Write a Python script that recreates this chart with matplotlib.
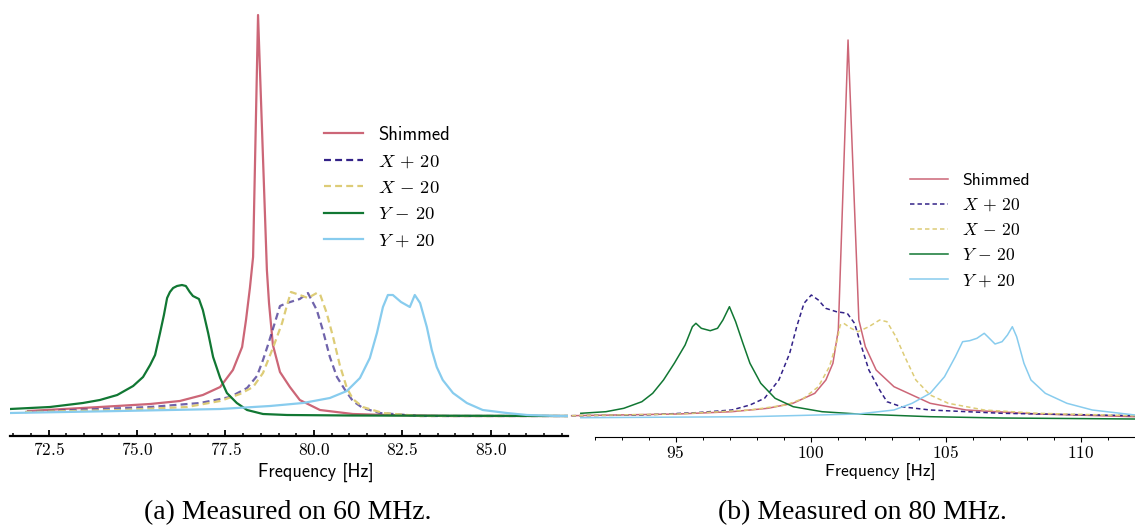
import matplotlib
matplotlib.use("Agg")
import matplotlib.pyplot as plt
from matplotlib.ticker import MultipleLocator, FuncFormatter

# ---------------- data (frequency [Hz], amplitude [a.u.]) ----------------
# Panel (a): 60 MHz
a_shim_f = [71.92, 73.95, 75.37, 76.21, 76.86, 77.35, 77.71, 77.97, 78.08, 78.19, 78.28, 78.42,
            78.67, 78.73, 78.84, 79.04, 79.32, 79.60, 80.17, 81.10, 82.06, 83.84, 87.18]
a_shim_y = [5, 9, 12, 15, 21, 29, 46, 69, 96, 128, 159, 401,
            146, 113, 71, 44, 29, 16, 6, 2, 1, 0, 0]

a_xp_f = [71.84, 73.95, 75.37, 76.78, 77.63, 78.11, 78.39, 78.56, 78.70, 78.84, 79.04, 79.24,
          79.60, 79.83, 80.08, 80.25, 80.45, 80.65, 80.88, 81.10, 81.38, 81.86, 83.00, 87.18]
a_xp_y = [4, 7, 9, 13, 19, 28, 40, 56, 71, 87, 110, 113,
          117, 123, 106, 86, 59, 39, 26, 15, 8, 3, 0, 0]

a_xm_f = [71.84, 74.52, 76.41, 77.35, 77.91, 78.28, 78.56, 78.84, 79.10, 79.24, 79.35, 79.60,
          79.83, 80.08, 80.17, 80.36, 80.54, 80.73, 80.93, 81.10, 81.38, 81.95, 83.00, 87.18]
a_xm_y = [4, 6, 9, 15, 22, 29, 43, 68, 93, 111, 124, 121,
          118, 123, 122, 103, 79, 51, 28, 17, 9, 3, 0, 0]

a_ym_f = [71.41, 72.54, 73.47, 73.95, 74.44, 74.89, 75.17, 75.37, 75.51, 75.65, 75.76, 75.85,
          75.93, 76.02, 76.13, 76.27, 76.38, 76.49, 76.58, 76.75, 76.86, 77.01, 77.15, 77.35,
          77.54, 77.82, 78.11, 78.56, 79.24, 81.00, 87.18]
a_ym_y = [7, 9, 13, 16, 21, 30, 39, 51, 61, 83, 101, 118,
          124, 128, 130, 131, 130, 124, 120, 117, 106, 83, 59, 38,
          23, 13, 6, 2, 1, 0.5, 0]

a_yp_f = [71.41, 74.52, 77.35, 78.76, 79.69, 80.45, 80.93, 81.30, 81.58, 81.78, 81.95, 82.09,
          82.23, 82.46, 82.71, 82.85, 83.00, 83.19, 83.33, 83.47, 83.64, 83.93, 84.32, 84.77,
          85.45, 86.02, 86.86, 87.18]
a_yp_y = [3, 5, 7, 10, 13, 18, 25, 38, 58, 83, 109, 121,
          121, 114, 109, 121, 113, 89, 66, 49, 36, 23, 13, 6,
          3, 1, 0, 0]

# Panel (b): 80 MHz
b_shim_f = [91.15, 95.08, 97.08, 98.41, 99.34, 100.15, 100.56, 100.82, 101.02, 101.38, 101.78,
            102.02, 102.42, 103.08, 104.42, 105.75, 108.42, 112.0]
b_shim_y = [3.3, 5, 7.3, 10.7, 15.7, 25.7, 39, 55.7, 89, 379, 99,
            72.3, 49, 32.3, 15.7, 9, 5, 2.3]

b_xp_f = [91.15, 93.75, 95.75, 97.08, 97.75, 98.29, 98.82, 99.22, 99.48, 99.75, 100.02, 100.28,
          100.55, 100.95, 101.35, 101.62, 101.88, 102.15, 102.55, 102.82, 103.35, 104.42, 107.08, 112.0]
b_xp_y = [3.3, 4, 6.3, 9, 14, 20.7, 39, 65.7, 92.3, 115.7, 124, 119,
          110.7, 107.3, 105.7, 95.7, 72.3, 49, 29, 17.3, 12.3, 9, 5.7, 3.3]

b_xm_f = [91.15, 95.08, 97.75, 99.08, 99.74, 100.28, 100.69, 100.95, 101.09, 101.22, 101.49,
          101.75, 102.15, 102.55, 102.82, 103.15, 103.48, 103.89, 104.42, 105.09, 106.42, 108.42, 112.0]
b_xm_y = [3.3, 5, 9, 14, 20.7, 32.3, 52.3, 75.7, 94, 95.7, 90.7,
          87.3, 92.3, 99, 97.3, 82.3, 62.3, 39, 24, 15.7, 9, 5.7, 3.3]

b_ym_f = [91.49, 92.42, 93.08, 93.75, 94.15, 94.55, 94.95, 95.35, 95.62, 95.75, 95.95, 96.28,
          96.55, 96.75, 96.99, 97.22, 97.49, 97.75, 98.15, 98.68, 99.35, 100.42, 101.75, 104.42,
          107.08, 112.0]
b_ym_y = [5.7, 7.3, 10.7, 17.3, 25.7, 39, 55.7, 74, 92.3, 95.7, 90.7, 88.3,
          90.7, 99, 112.3, 97.3, 75.7, 55.7, 35.7, 20.7, 12.3, 7.3, 5, 2.3,
          1, 0]

b_yp_f = [91.49, 97.75, 101.75, 103.08, 103.75, 104.42, 104.95, 105.35, 105.62, 105.88, 106.15,
          106.42, 106.55, 106.82, 107.08, 107.28, 107.46, 107.62, 107.89, 108.15, 108.68, 109.48,
          110.42, 112.0]
b_yp_y = [1.3, 2.3, 5, 9, 15.7, 25.7, 42.3, 62.3, 77.3, 78.3, 80.7,
          85.7, 82.3, 75, 77.3, 84, 92.3, 82.3, 55.7, 39, 25.7, 15.7,
          9, 4]

labels = ["Shimmed", r"$X\,+\,20$", r"$X\,-\,20$", r"$Y\,-\,20$", r"$Y\,+\,20$"]
captions = ["(a) Measured on 60 MHz.", "(b) Measured on 80 MHz."]
xlabel = "Frequency [Hz]"

# ---------------- style ----------------
plt.rcParams["mathtext.fontset"] = "cm"
plt.rcParams["lines.scale_dashes"] = False
C_RED, C_PUR, C_YEL, C_GRN, C_BLU = "#CC6677", "#332288", "#DDCC77", "#117733", "#88CCEE"

W, H = 1135, 528
fig = plt.figure(figsize=(W / 100, H / 100), dpi=100)


def rect(x0, x1, ytop, ybot):
    return [x0 / W, 1 - ybot / H, (x1 - x0) / W, (ybot - ytop) / H]


axL = fig.add_axes(rect(10, 568, 0, 435.5))
axR = fig.add_axes(rect(570, 1135, 0, 436.7))

# ---- panel (a)
lw = 1.6
axL.plot(a_shim_f, a_shim_y, color=C_RED, lw=lw, label=labels[0])
axL.plot(a_xp_f, a_xp_y, color=C_PUR, lw=lw, alpha=0.7, dashes=(5, 3), label=labels[1])
axL.plot(a_xm_f, a_xm_y, color=C_YEL, lw=lw, dashes=(5, 3), label=labels[2])
axL.plot(a_ym_f, a_ym_y, color=C_GRN, lw=lw, label=labels[3])
axL.plot(a_yp_f, a_yp_y, color=C_BLU, lw=lw, label=labels[4])
axL.set_xlim(71.41, 87.18)
axL.set_ylim(-19.5, 416)

# ---- panel (b)
lw2 = 1.1
axR.plot(b_shim_f, b_shim_y, color=C_RED, lw=lw2, label=labels[0])
axR.plot(b_xp_f, b_xp_y, color=C_PUR, lw=lw2, dashes=(3.2, 2.2), label=labels[1])
axR.plot(b_xm_f, b_xm_y, color=C_YEL, lw=lw2, dashes=(3.2, 2.2), label=labels[2])
axR.plot(b_ym_f, b_ym_y, color=C_GRN, lw=lw2, label=labels[3])
axR.plot(b_yp_f, b_yp_y, color=C_BLU, lw=lw2, label=labels[4])
axR.set_xlim(91.09, 112.0)
axR.set_ylim(-17.7, 419)

for ax in (axL, axR):
    ax.patch.set_visible(False)
    for s in ("left", "top", "right"):
        ax.spines[s].set_visible(False)
    ax.set_yticks([])

axL.spines["bottom"].set_linewidth(1.6)
axL.xaxis.set_major_locator(MultipleLocator(2.5))
axL.xaxis.set_minor_locator(MultipleLocator(0.5))
axL.xaxis.set_major_formatter(FuncFormatter(lambda v, p: f"${v:.1f}$"))
axL.tick_params(axis="x", which="major", direction="in", length=4, width=1.3,
                labelsize=12.5, pad=4)
axL.tick_params(axis="x", which="minor", direction="in", length=2.2, width=1.1)

axR.spines["bottom"].set_linewidth(0.8)
axR.spines["bottom"].set_bounds(92.0, 112.0)
axR.xaxis.set_major_locator(MultipleLocator(5))
axR.xaxis.set_minor_locator(MultipleLocator(1))
axR.xaxis.set_major_formatter(FuncFormatter(lambda v, p: f"${v:.0f}$"))
axR.tick_params(axis="x", which="major", direction="out", length=3.8, width=0.8,
                labelsize=12.5, pad=1.5)
axR.tick_params(axis="x", which="minor", direction="out", length=2.2, width=0.7)

# legends
legL = axL.legend(loc="upper left", bbox_to_anchor=(324 / W, 1 - 126 / H),
                  bbox_transform=fig.transFigure, frameon=False, borderpad=0,
                  borderaxespad=0, handlelength=2.1, handletextpad=0.8,
                  labelspacing=0.45, prop={"family": "cmss10", "size": 13.4})
for ln in legL.get_lines():
    ln.set_alpha(1)
legR = axR.legend(loc="upper left", bbox_to_anchor=(910 / W, 1 - 172.5 / H),
                  bbox_transform=fig.transFigure, frameon=False, borderpad=0,
                  borderaxespad=0, handlelength=2.19, handletextpad=0.81,
                  labelspacing=0.51, prop={"family": "cmss10", "size": 12.6})

# axis labels and captions
fig.text(316 / W, 1 - 472 / H, xlabel, ha="center", va="center", family="cmss10", fontsize=13.2)
fig.text(880 / W, 1 - 472 / H, xlabel, ha="center", va="center", family="cmss10", fontsize=12.6)
fig.text(288 / W, 1 - 513 / H, captions[0], ha="center", va="center",
         family="Liberation Serif", fontsize=20)
fig.text(862 / W, 1 - 513 / H, captions[1], ha="center", va="center",
         family="Liberation Serif", fontsize=20)

fig.savefig("out.png", dpi=100)
